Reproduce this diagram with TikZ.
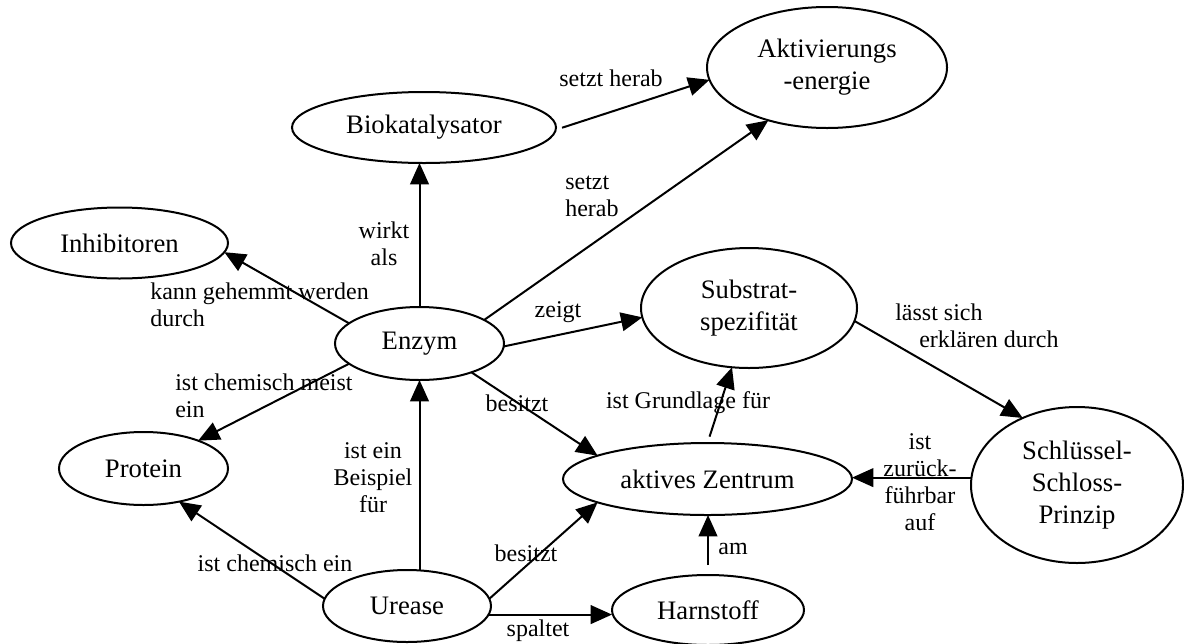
\documentclass[tikz,border=0pt]{standalone}
\usepackage{fontspec}
\setmainfont{Liberation Serif}
\usetikzlibrary{shapes.geometric,arrows.meta,calc}
\begin{document}
\begin{tikzpicture}[x=0.75pt,y=-0.75pt,
  ell/.style={ellipse, draw, line width=1.5pt, inner sep=0pt, outer sep=0pt,
    font=\fontsize{20}{24}\selectfont, align=center},
  arr/.style={line width=1.5pt, -{Triangle[length=16pt,width=14pt]}},
  lbl/.style={font=\fontsize{18}{20.25}\selectfont, inner sep=0pt}
]
\useasboundingbox (0,0) rectangle (1184,643);

% nodes
\node[ell, minimum width=180pt, minimum height=90.75pt] (aktiv) at (827,67.5) {Aktivierungs\\-energie};
\node[ell, minimum width=198pt, minimum height=53.25pt] (bio) at (424,127.5) {Biokatalysator};
\node[ell, minimum width=162.75pt, minimum height=53.25pt] (inh) at (119.5,243) {Inhibitoren};
\node[ell, minimum width=162pt, minimum height=90pt] (sub) at (749,308) {Substrat-\\spezifität};
\node[ell, minimum width=126.75pt, minimum height=54.75pt] (enz) at (419.5,343.5) {Enzym};
\node[ell, minimum width=126.75pt, minimum height=54.75pt] (prot) at (143.5,468.5) {Protein};
\node[ell, minimum width=216.75pt, minimum height=54pt] (zent) at (707.5,479) {aktives Zentrum};
\node[ell, minimum width=159pt, minimum height=117pt] (ssp) at (1077,485) {Schlüssel-\\Schloss-\\Prinzip};
\node[ell, minimum width=126pt, minimum height=54pt] (ure) at (407,606) {Urease};
\node[ell, minimum width=144pt, minimum height=52.5pt] (harn) at (708,610) {Harnstoff};

% connectors
\draw[arr, shorten <=5pt] (bio.-1) -- (aktiv.186);
\draw[arr] (enz.20) -- (aktiv.222);
\draw[arr] (enz.north) -- (enz.north |- bio.south);
\draw[arr] (enz.164) -- (inh.-5);
\draw[arr] (enz.196) -- (prot.27);
\draw[arr] (enz.-2) -- (sub.185);
\draw[arr] (enz.-29) -- (zent.168);
\draw[arr] (ure.175) -- (prot.-43);
\draw[arr] (enz.south |- ure.north) -- (enz.south);
\draw[arr] (ure.5) -- (zent.192);
\draw[arr] (ure.-6.3) -- (ure.-6.3 -| harn.west);
\draw[arr, shorten <=5pt] (zent.north) -- (sub.254);
\draw[arr, shorten <=7.5pt] (harn.north) -- (harn.north |- zent.south);
\draw[arr] (sub.-7.5) -- (ssp.129);
\draw[arr] (ssp.176.75) -- (ssp.176.75 -| zent.east);

% labels
\node[lbl] (l1) at (611,78) {setzt herab};
\node[lbl, align=left, anchor=west] (l2) at (565,196.5) {setzt\\herab};
\node[lbl, align=center] (l3) at (384,243.5) {wirkt\\als};
\node[lbl, align=left, anchor=west] (l4) at (150,305) {kann gehemmt werden\\durch};
\node[lbl] (l5) at (558,312) {zeigt};
\node[lbl, align=left, anchor=west] (l6) at (175,396) {ist chemisch meist\\ein};
\node[lbl] (l7) at (517,403) {besitzt};
\node[lbl] (l8) at (688,403) {ist Grundlage für};
\node[lbl, align=center] (l9) at (373,477.5) {ist ein\\Beispiel\\für};
\node[lbl] (l10) at (275,563) {ist chemisch ein};
\node[lbl] (l11) at (526,553) {besitzt};
\node[lbl] (l12) at (538,631) {spaltet};
\node[lbl] (l13) at (733,549) {am};
\node[lbl, align=left, anchor=west] (l14) at (895,326) {lässt sich\\\hspace*{18pt}erklären durch};
\node[lbl, align=center] (l15) at (920,482.5) {ist\\zurück-\\führbar\\auf};
\end{tikzpicture}
\end{document}
